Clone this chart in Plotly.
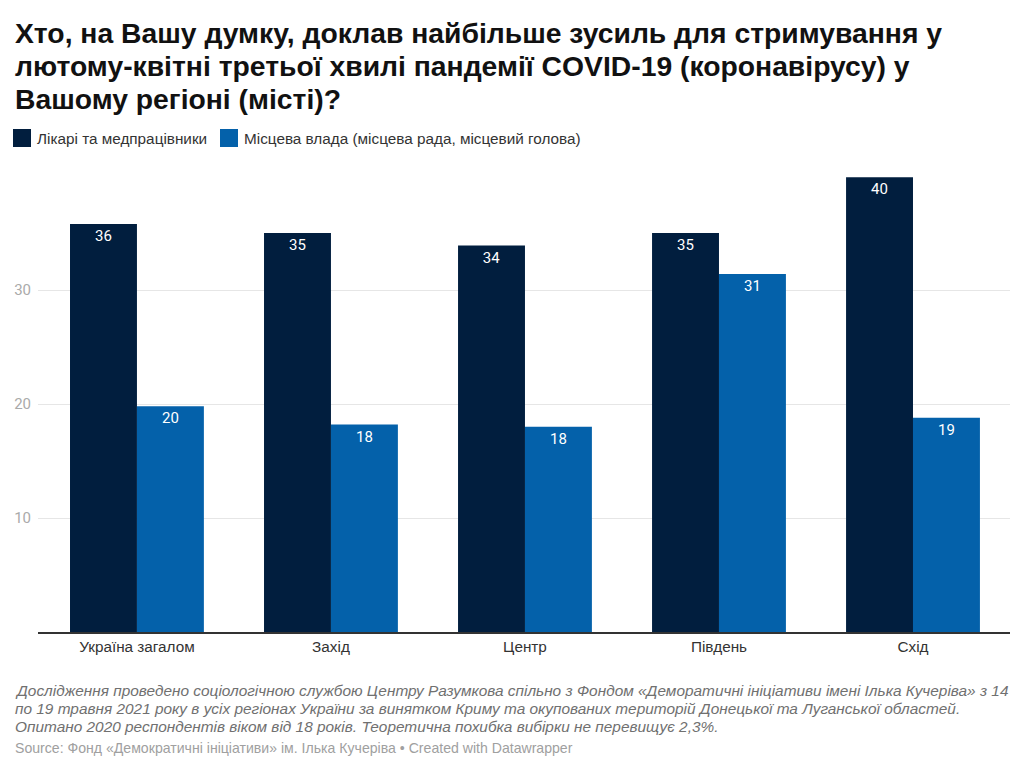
import plotly.graph_objects as go

categories = ["Україна загалом", "Захід", "Центр", "Південь", "Схід"]
series_names = ["Лікарі та медпрацівники", "Місцева влада (місцева рада, місцевий голова)"]
doctors = [35.8, 35.0, 33.9, 35.0, 39.9]
local_gov = [19.8, 18.2, 18.0, 31.4, 18.8]
y_ticks = [10, 20, 30]

title_lines = [
    "Хто, на Вашу думку, доклав найбільше зусиль для стримування у",
    "лютому-квітні третьої хвилі пандемії COVID-19 (коронавірусу) у",
    "Вашому регіоні (місті)?",
]
note_lines = [
    "Дослідження проведено соціологічною службою Центру Разумкова спільно з Фондом «Деморатичні ініціативи імені Ілька Кучеріва» з 14",
    "по 19 травня 2021 року в усіх регіонах України за винятком Криму та окупованих територій Донецької та Луганської областей.",
    "Опитано 2020 респондентів віком від 18 років. Теоретична похибка вибірки не перевищує 2,3%.",
]
source_text = "Source: Фонд «Демократичні ініціативи» ім. Ілька Кучеріва • Created with Datawrapper"

colors = ["#011e3e", "#0461aa"]
FONT = "Liberation Sans"
NUMFONT = "Roboto"

W, H = 1024, 774
L, R, T, B = 38, 14, 176, 142
PH = H - T - B
PW = W - L - R

def px(x):
    return (x - L) / PW

def py(y):
    return (H - B - y) / PH

fig = go.Figure()
for name, vals, c in zip(series_names, [doctors, local_gov], colors):
    fig.add_trace(go.Bar(
        x=categories, y=vals, name=name,
        marker=dict(color=c, line=dict(width=0)),
        text=[f"{round(v):d}" for v in vals],
        textposition="inside", insidetextanchor="end",
        textfont=dict(color="white", size=15, family=NUMFONT),
        cliponaxis=False, showlegend=False,
    ))

annotations = []
shapes = []
for i, line in enumerate(title_lines):
    annotations.append(dict(
        text=f"<b>{line}</b>", x=px(13), y=py(33 + 33 * i), xref="paper", yref="paper",
        xanchor="left", yanchor="middle", showarrow=False,
        font=dict(size=28.3, family=FONT, color="#111111"),
    ))

# custom legend
leg_x = [13, 220]
for name, c, lx in zip(series_names, colors, leg_x):
    shapes.append(dict(
        type="rect", xref="paper", yref="paper",
        x0=px(lx), x1=px(lx + 18), y0=py(147), y1=py(129),
        fillcolor=c, line=dict(width=0),
    ))
    annotations.append(dict(
        text=name, x=px(lx + 22), y=py(138), xref="paper", yref="paper",
        xanchor="left", yanchor="middle", showarrow=False,
        font=dict(size=15.3, family=FONT, color="#333333"),
    ))

for i, line in enumerate(note_lines):
    annotations.append(dict(
        text=f"<i>{line}</i>", x=px(13), y=py(690 + 18 * i), xref="paper", yref="paper",
        xanchor="left", yanchor="middle", showarrow=False,
        font=dict(size=15.4, family=FONT, color="#707070"),
    ))
annotations.append(dict(
    text=source_text, x=px(13), y=py(748), xref="paper", yref="paper",
    xanchor="left", yanchor="middle", showarrow=False,
    font=dict(size=14.1, family=FONT, color="#a0a0a0"),
))

fig.update_layout(
    width=W, height=H,
    margin=dict(l=L, r=R, t=T, b=B, autoexpand=False),
    paper_bgcolor="white", plot_bgcolor="white",
    barmode="group", bargap=0.31, bargroupgap=0,
    font=dict(family=FONT, color="#333333"),
    showlegend=False,
    annotations=annotations,
    shapes=shapes,
    xaxis=dict(
        range=[-0.51, 4.50], showgrid=False, ticks="", automargin=False,
        tickfont=dict(size=15.3, family=FONT, color="#333333"),
        showline=True, linecolor="#333333", linewidth=1.5,
    ),
    yaxis=dict(
        range=[0, 40], tickvals=y_ticks, showgrid=True, gridcolor="#e6e6e6",
        gridwidth=1, zeroline=False, showline=False, ticks="", automargin=False,
        tickfont=dict(size=15, family=NUMFONT, color="#aaaaaa"),
        ticklabelstandoff=6,
    ),
)

fig.write_html(
    "out.html",
    config={"displayModeBar": False},
    post_script="document.body.style.margin='0';document.body.style.overflow='hidden';",
)
